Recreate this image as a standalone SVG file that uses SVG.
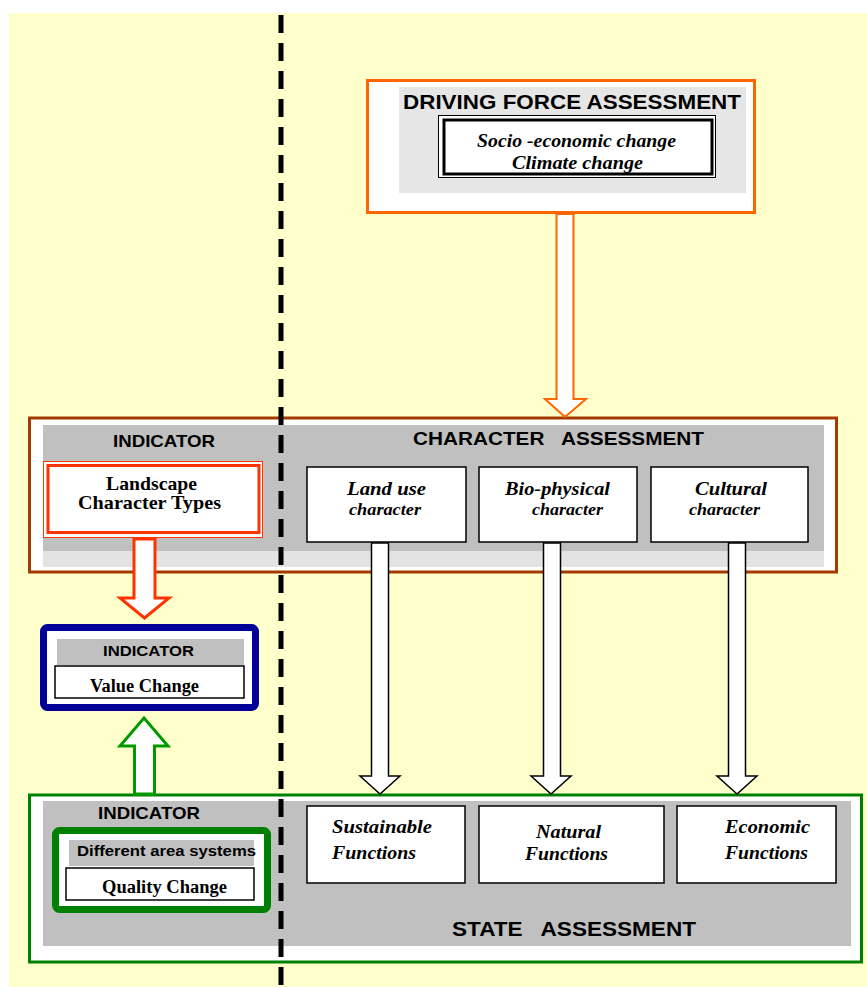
<svg xmlns="http://www.w3.org/2000/svg" width="867" height="987" viewBox="0 0 867 987">
<style>
.h{font-family:"Liberation Sans",Arial,sans-serif;font-weight:bold;fill:#000;text-anchor:middle}
.t{font-family:"Liberation Serif","Times New Roman",serif;font-weight:bold;fill:#000;text-anchor:middle}
.ti{font-family:"Liberation Serif","Times New Roman",serif;font-weight:bold;font-style:italic;fill:#000;text-anchor:middle}
.wb{fill:#fff;stroke:#000;stroke-width:1.5}
.arr{fill:#fff;stroke:#000;stroke-width:1.5;stroke-linejoin:miter}
</style>
<rect x="0" y="0" width="867" height="987" fill="#fff"/>
<rect x="9" y="13" width="858" height="974" fill="#FFFFCC"/>

<g id="driving-force">
<rect x="367.5" y="80.5" width="387" height="132" fill="#fff" stroke="#FF6600" stroke-width="3"/>
<rect x="399" y="87" width="347" height="106" fill="#E6E6E6"/>
<text class="h" x="572" y="109" font-size="21" textLength="338" lengthAdjust="spacingAndGlyphs">DRIVING FORCE ASSESSMENT</text>
<rect x="438.5" y="115.5" width="277" height="62" fill="#fff" stroke="#000" stroke-width="1"/>
<rect x="444" y="120" width="268" height="54" fill="#fff" stroke="#000" stroke-width="3"/>
<text class="ti" x="576.5" y="147" font-size="18" textLength="199" lengthAdjust="spacingAndGlyphs">Socio -economic change</text>
<text class="ti" x="577.5" y="169" font-size="18" textLength="131" lengthAdjust="spacingAndGlyphs">Climate change</text>
</g>

<g id="character-assessment">
<rect x="29.5" y="418" width="807" height="154" fill="#fff" stroke="#A33A00" stroke-width="3"/>
<rect x="43" y="425" width="781" height="126" fill="#C0C0C0"/>
<rect x="43" y="551" width="781" height="16" fill="#E3E3E3"/>
<text class="h" x="164" y="447" font-size="17" textLength="102" lengthAdjust="spacingAndGlyphs">INDICATOR</text>
<text class="h" x="558.5" y="445" font-size="18" textLength="291" lengthAdjust="spacingAndGlyphs" xml:space="preserve">CHARACTER   ASSESSMENT</text>
</g>

<g id="landscape-character-types">
<rect x="43.5" y="461.5" width="219" height="76" fill="#fff" stroke="#FF3300" stroke-width="1"/>
<rect x="48" y="465.5" width="211" height="67" fill="#fff" stroke="#FF3300" stroke-width="3"/>
<text class="t" x="151.5" y="490" font-size="19" textLength="91" lengthAdjust="spacingAndGlyphs">Landscape</text>
<text class="t" x="149.5" y="509" font-size="19" textLength="143" lengthAdjust="spacingAndGlyphs">Character Types</text>
</g>

<g id="land-use">
<rect class="wb" x="307" y="467" width="159" height="75"/>
<text class="ti" x="386.5" y="495" font-size="19" textLength="79" lengthAdjust="spacingAndGlyphs">Land use</text>
<text class="ti" x="385" y="515" font-size="17" textLength="72" lengthAdjust="spacingAndGlyphs">character</text>
</g>
<g id="bio-physical">
<rect class="wb" x="479" y="467" width="158" height="75"/>
<text class="ti" x="557.5" y="495" font-size="19" textLength="105" lengthAdjust="spacingAndGlyphs">Bio-physical</text>
<text class="ti" x="567.5" y="515" font-size="17" textLength="71" lengthAdjust="spacingAndGlyphs">character</text>
</g>
<g id="cultural">
<rect class="wb" x="651" y="467" width="157" height="75"/>
<text class="ti" x="731" y="495" font-size="19" textLength="72" lengthAdjust="spacingAndGlyphs">Cultural</text>
<text class="ti" x="724.5" y="515" font-size="17" textLength="71" lengthAdjust="spacingAndGlyphs">character</text>
</g>

<g id="value-change">
<rect x="43.5" y="627.5" width="212" height="80" rx="4" fill="#fff" stroke="#000099" stroke-width="7"/>
<rect x="57" y="639" width="187" height="26" fill="#C0C0C0"/>
<text class="h" x="148.5" y="656" font-size="15" textLength="91" lengthAdjust="spacingAndGlyphs">INDICATOR</text>
<rect class="wb" x="55" y="666" width="189" height="32"/>
<text class="t" x="144.5" y="692" font-size="18" textLength="109" lengthAdjust="spacingAndGlyphs">Value Change</text>
</g>

<g id="state-assessment">
<rect x="29.5" y="795" width="832" height="167" fill="#fff" stroke="#008000" stroke-width="3"/>
<rect x="43" y="801" width="808" height="145" fill="#C0C0C0"/>
<text class="h" x="149" y="819" font-size="17" textLength="102" lengthAdjust="spacingAndGlyphs">INDICATOR</text>
<text class="h" x="574" y="936" font-size="20" textLength="244" lengthAdjust="spacingAndGlyphs" xml:space="preserve">STATE   ASSESSMENT</text>
</g>

<g id="quality-change">
<rect x="55.5" y="830.5" width="212" height="79" rx="4" fill="#fff" stroke="#008000" stroke-width="7"/>
<rect x="69" y="840" width="185" height="26" fill="#C0C0C0"/>
<text class="h" x="166.5" y="856" font-size="15" textLength="179" lengthAdjust="spacingAndGlyphs">Different area systems</text>
<rect class="wb" x="66" y="868" width="188" height="32"/>
<text class="t" x="164.5" y="893" font-size="18" textLength="125" lengthAdjust="spacingAndGlyphs">Quality Change</text>
</g>

<g id="sustainable">
<rect class="wb" x="307" y="806" width="158" height="77"/>
<text class="ti" x="382" y="833" font-size="19" textLength="100" lengthAdjust="spacingAndGlyphs">Sustainable</text>
<text class="ti" x="374" y="859" font-size="19" textLength="84" lengthAdjust="spacingAndGlyphs">Functions</text>
</g>
<g id="natural">
<rect class="wb" x="479" y="806" width="185" height="77"/>
<text class="ti" x="568.5" y="838" font-size="19" textLength="65" lengthAdjust="spacingAndGlyphs">Natural</text>
<text class="ti" x="566.5" y="860" font-size="19" textLength="83" lengthAdjust="spacingAndGlyphs">Functions</text>
</g>
<g id="economic">
<rect class="wb" x="677" y="806" width="159" height="77"/>
<text class="ti" x="767.5" y="833" font-size="19" textLength="85" lengthAdjust="spacingAndGlyphs">Economic</text>
<text class="ti" x="766.5" y="859" font-size="19" textLength="83" lengthAdjust="spacingAndGlyphs">Functions</text>
</g>

<g id="connectors">
<line x1="281" y1="15" x2="281" y2="987" stroke="#000" stroke-width="5" stroke-dasharray="18 10"/>
<polygon points="556.5,214 573.5,214 573.5,399 586,399 565,417 545,399 556.5,399" fill="#fff" stroke="#FF6600" stroke-width="2"/>
<polygon class="arr" points="371.5,543 388.5,543 388.5,776 400,776 380,794 360,776 371.5,776"/>
<polygon class="arr" points="543.5,543 560.5,543 560.5,776 571,776 551,794 531,776 543.5,776"/>
<polygon class="arr" points="728.5,543 745.5,543 745.5,776 757,776 737,794 717,776 728.5,776"/>
<polygon points="134,539 155,539 155,598 169,598 144.5,618 120,598 134,598" fill="#fff" stroke="#FF3300" stroke-width="3"/>
<polygon points="134.5,794 154.5,794 154.5,746 168,746 144,718 120,746 134.5,746" fill="#fff" stroke="#009900" stroke-width="3"/>
</g>
</svg>
